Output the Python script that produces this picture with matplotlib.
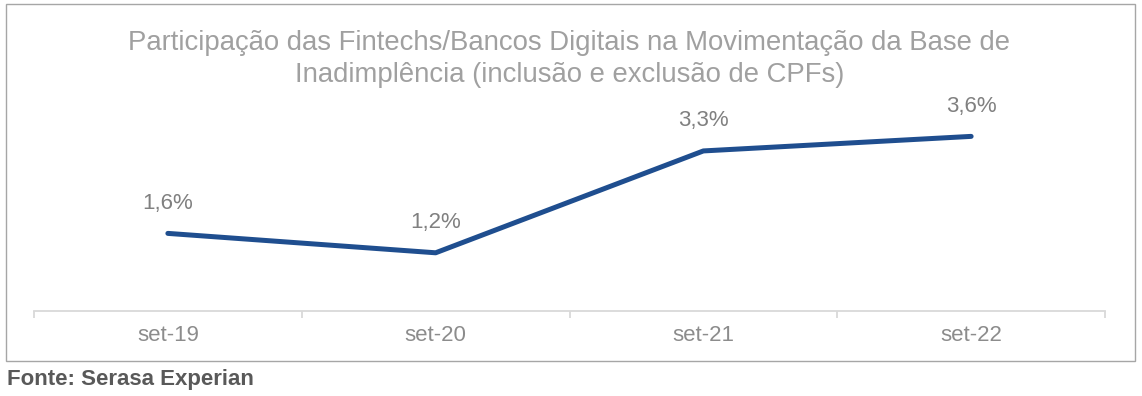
import matplotlib
matplotlib.use("Agg")
import matplotlib.pyplot as plt
from matplotlib.patches import Rectangle

categories = ["set-19", "set-20", "set-21", "set-22"]
values = [1.6, 1.2, 3.3, 3.6]
labels = ["1,6%", "1,2%", "3,3%", "3,6%"]
title = "Participação das Fintechs/Bancos Digitais na Movimentação da Base de\nInadimplência (inclusão e exclusão de CPFs)"
source = "Fonte: Serasa Experian"

plt.rcParams['font.family'] = ['Liberation Sans', 'DejaVu Sans']

W, H = 1142, 396
fig = plt.figure(figsize=(W / 100, H / 100), dpi=100)
fig.patch.set_facecolor("white")

# outer border of chart area
fig.patches.append(Rectangle((6 / W, 1 - 361 / H), (1135 - 6) / W, (361 - 4) / H,
                             transform=fig.transFigure, fill=False,
                             edgecolor="#a6a6a6", linewidth=1.0))

ax = fig.add_axes([34 / W, 85 / H, (1105 - 34) / W, (311 - 100) / H])
x = list(range(len(categories)))
ax.plot(x, values, color="#1f4e8f", linewidth=3.6, solid_capstyle="round",
        solid_joinstyle="round")
for xi, v, lab in zip(x, values, labels):
    ax.annotate(lab, (xi, v), xytext=(0, 14), textcoords="offset points",
                ha="center", va="bottom", fontsize=16, color="#808080")

ax.set_xlim(-0.5, len(categories) - 0.5)
ax.set_ylim(0, 4.35)
ax.set_yticks([])
for s in ["top", "right", "left"]:
    ax.spines[s].set_visible(False)
ax.spines["bottom"].set_color("#d9d9d9")
ax.spines["bottom"].set_linewidth(1.3)
ax.set_xticks([i - 0.5 for i in range(len(categories) + 1)], minor=False)
ax.set_xticklabels([])
ax.tick_params(axis="x", which="major", length=5, color="#d9d9d9", width=1.3)
ax.set_xticks(x, minor=True)
ax.set_xticklabels(categories, minor=True)
ax.tick_params(axis="x", which="minor", length=0, labelsize=16,
               labelcolor="#8c8c8c", pad=10)

fig.text((34 + 1105) / 2 / W, 1 - 30 / H, title, ha="center", va="top",
         fontsize=19.8, color="#a0a0a0", linespacing=1.28)
fig.text(7 / W, 1 - 380 / H, source, ha="left", va="center", fontsize=16,
         fontweight="bold", color="#595959")

fig.savefig("out.png", dpi=100, facecolor="white")
